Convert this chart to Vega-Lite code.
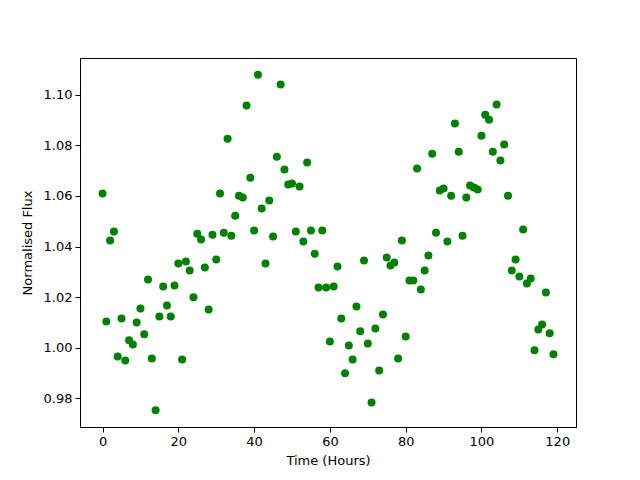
{
  "$schema": "https://vega.github.io/schema/vega-lite/v6.json",
  "width": 496,
  "height": 369,
  "autosize": {"type": "none"},
  "padding": {"left": 80, "top": 58, "right": 64, "bottom": 53},
  "background": "white",
  "config": {
    "view": {"stroke": "black", "strokeWidth": 1},
    "axis": {
      "grid": false,
      "domainColor": "black",
      "tickColor": "black",
      "tickSize": 5,
      "labelFont": "DejaVu Sans",
      "labelFontSize": 13,
      "labelColor": "black",
      "labelPadding": 3,
      "titleFont": "DejaVu Sans",
      "titleFontSize": 13,
      "titleFontWeight": "normal",
      "titleColor": "black"
    }
  },
  "data": {"values": [
    {"t":0,"f":1.061},{"t":1,"f":1.0104},{"t":2,"f":1.0424},{"t":3,"f":1.0459},{"t":4,"f":0.9966},
    {"t":5,"f":1.0116},{"t":6,"f":0.995},{"t":7,"f":1.003},{"t":8,"f":1.0013},{"t":9,"f":1.010},
    {"t":10,"f":1.0155},{"t":11,"f":1.0053},{"t":12,"f":1.027},{"t":13,"f":0.9958},{"t":14,"f":0.9753},
    {"t":15,"f":1.0124},{"t":16,"f":1.0242},{"t":17,"f":1.0167},{"t":18,"f":1.0124},{"t":19,"f":1.0246},
    {"t":20,"f":1.0333},{"t":21,"f":0.9954},{"t":22,"f":1.0341},{"t":23,"f":1.0305},{"t":24,"f":1.020},
    {"t":25,"f":1.0451},{"t":26,"f":1.0428},{"t":27,"f":1.0317},{"t":28,"f":1.0151},{"t":29,"f":1.0447},
    {"t":30,"f":1.0349},{"t":31,"f":1.061},{"t":32,"f":1.0455},{"t":33,"f":1.0826},{"t":34,"f":1.0443},
    {"t":35,"f":1.0522},{"t":36,"f":1.0601},{"t":37,"f":1.0594},{"t":38,"f":1.0957},{"t":39,"f":1.0672},
    {"t":40,"f":1.0463},{"t":41,"f":1.1079},{"t":42,"f":1.055},{"t":43,"f":1.0333},{"t":44,"f":1.0582},
    {"t":45,"f":1.044},{"t":46,"f":1.0755},{"t":47,"f":1.104},{"t":48,"f":1.0704},{"t":49,"f":1.0645},
    {"t":50,"f":1.0649},{"t":51,"f":1.0459},{"t":52,"f":1.0637},{"t":53,"f":1.042},{"t":54,"f":1.0732},
    {"t":55,"f":1.0463},{"t":56,"f":1.0372},{"t":57,"f":1.0238},{"t":58,"f":1.0463},{"t":59,"f":1.0238},
    {"t":60,"f":1.0025},{"t":61,"f":1.0242},{"t":62,"f":1.0321},{"t":63,"f":1.0116},{"t":64,"f":0.9899},
    {"t":65,"f":1.0009},{"t":66,"f":0.9954},{"t":67,"f":1.0163},{"t":68,"f":1.0065},{"t":69,"f":1.0345},
    {"t":70,"f":1.0017},{"t":71,"f":0.9784},{"t":72,"f":1.0076},{"t":73,"f":0.991},{"t":74,"f":1.0132},
    {"t":75,"f":1.0357},{"t":76,"f":1.0325},{"t":77,"f":1.0337},{"t":78,"f":0.9958},{"t":79,"f":1.0424},
    {"t":80,"f":1.0045},{"t":81,"f":1.0266},{"t":82,"f":1.0266},{"t":83,"f":1.0708},{"t":84,"f":1.023},
    {"t":85,"f":1.0305},{"t":86,"f":1.0365},{"t":87,"f":1.0767},{"t":88,"f":1.0455},{"t":89,"f":1.0621},
    {"t":90,"f":1.0629},{"t":91,"f":1.042},{"t":92,"f":1.0601},{"t":93,"f":1.0886},{"t":94,"f":1.0775},
    {"t":95,"f":1.0443},{"t":96,"f":1.0594},{"t":97,"f":1.0641},{"t":98,"f":1.0633},{"t":99,"f":1.0625},
    {"t":100,"f":1.0838},{"t":101,"f":1.0921},{"t":102,"f":1.0901},{"t":103,"f":1.0775},{"t":104,"f":1.0961},
    {"t":105,"f":1.074},{"t":106,"f":1.0803},{"t":107,"f":1.0601},{"t":108,"f":1.0305},{"t":109,"f":1.0349},
    {"t":110,"f":1.0282},{"t":111,"f":1.0467},{"t":112,"f":1.0254},{"t":113,"f":1.0274},{"t":114,"f":0.999},
    {"t":115,"f":1.0072},{"t":116,"f":1.0092},{"t":117,"f":1.0218},{"t":118,"f":1.0057},{"t":119,"f":0.9974}
  ]},
  "mark": {"type": "circle", "color": "#008000", "opacity": 1, "size": 64},
  "encoding": {
    "x": {
      "field": "t", "type": "quantitative",
      "scale": {"domain": [-5.95, 124.95], "nice": false, "zero": false},
      "axis": {"values": [0, 20, 40, 60, 80, 100, 120], "title": "Time (Hours)", "titlePadding": 6, "format": "d"}
    },
    "y": {
      "field": "f", "type": "quantitative",
      "scale": {"domain": [0.9687, 1.1145], "nice": false, "zero": false},
      "axis": {"values": [0.98, 1.0, 1.02, 1.04, 1.06, 1.08, 1.10], "format": ".2f", "title": "Normalised Flux", "titlePadding": 9}
    }
  }
}
